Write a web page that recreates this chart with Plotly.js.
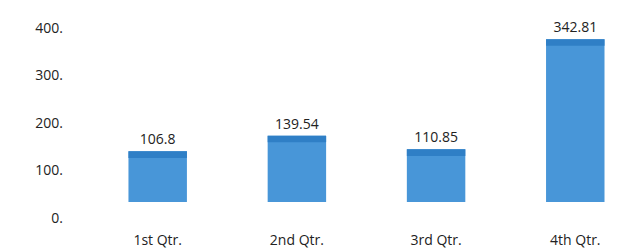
<!DOCTYPE html>
<html><head><meta charset="utf-8">
<script src="https://cdn.plot.ly/plotly-3.0.1.min.js"></script>
<style>html,body{margin:0;padding:0;background:#fff;}#chart{width:632px;height:250px;}</style>
</head><body><div id="chart"></div>
<script>
const categories = ["1st Qtr.", "2nd Qtr.", "3rd Qtr.", "4th Qtr."];
const values = [106.8, 139.54, 110.85, 342.81];
const valueLabels = ["106.8", "139.54", "110.85", "342.81"];
const yTicks = [0, 100, 200, 300, 400];
const yTickLabels = ["0.", "100.", "200.", "300.", "400."];

const capDepth = 14; // data units for the top face
const font = {family: "'Open Sans', sans-serif", size: 14, color: "#222222"};

const body = {
  type: "bar", x: categories, y: values,
  marker: {color: "#4896d8", line: {width: 0}},
  width: 0.42,
  text: valueLabels, textposition: "outside", cliponaxis: false,
  textfont: font, hoverinfo: "skip"
};
const cap = {
  type: "bar", x: categories, y: values.map(() => capDepth),
  base: values.map(v => v - capDepth),
  marker: {color: "#2f7fc6", line: {width: 0}},
  width: 0.42, hoverinfo: "skip"
};

Plotly.newPlot("chart", [body, cap], {
  width: 632, height: 250,
  margin: {l: 70, r: 8, t: 12, b: 48},
  barmode: "overlay",
  showlegend: false,
  paper_bgcolor: "#fff", plot_bgcolor: "#fff",
  font: font,
  xaxis: {
    type: "category", range: [-0.63, 3.35],
    showgrid: false, zeroline: false, showline: false, ticks: "",
    ticklabelstandoff: 28, tickfont: font
  },
  yaxis: {
    range: [0, 400], tickvals: yTicks, ticktext: yTickLabels,
    showgrid: false, zeroline: false, showline: false, ticks: "",
    ticklabelshift: 16, ticklabelstandoff: 6, tickfont: font
  }
}, {staticPlot: true});
</script></body></html>
